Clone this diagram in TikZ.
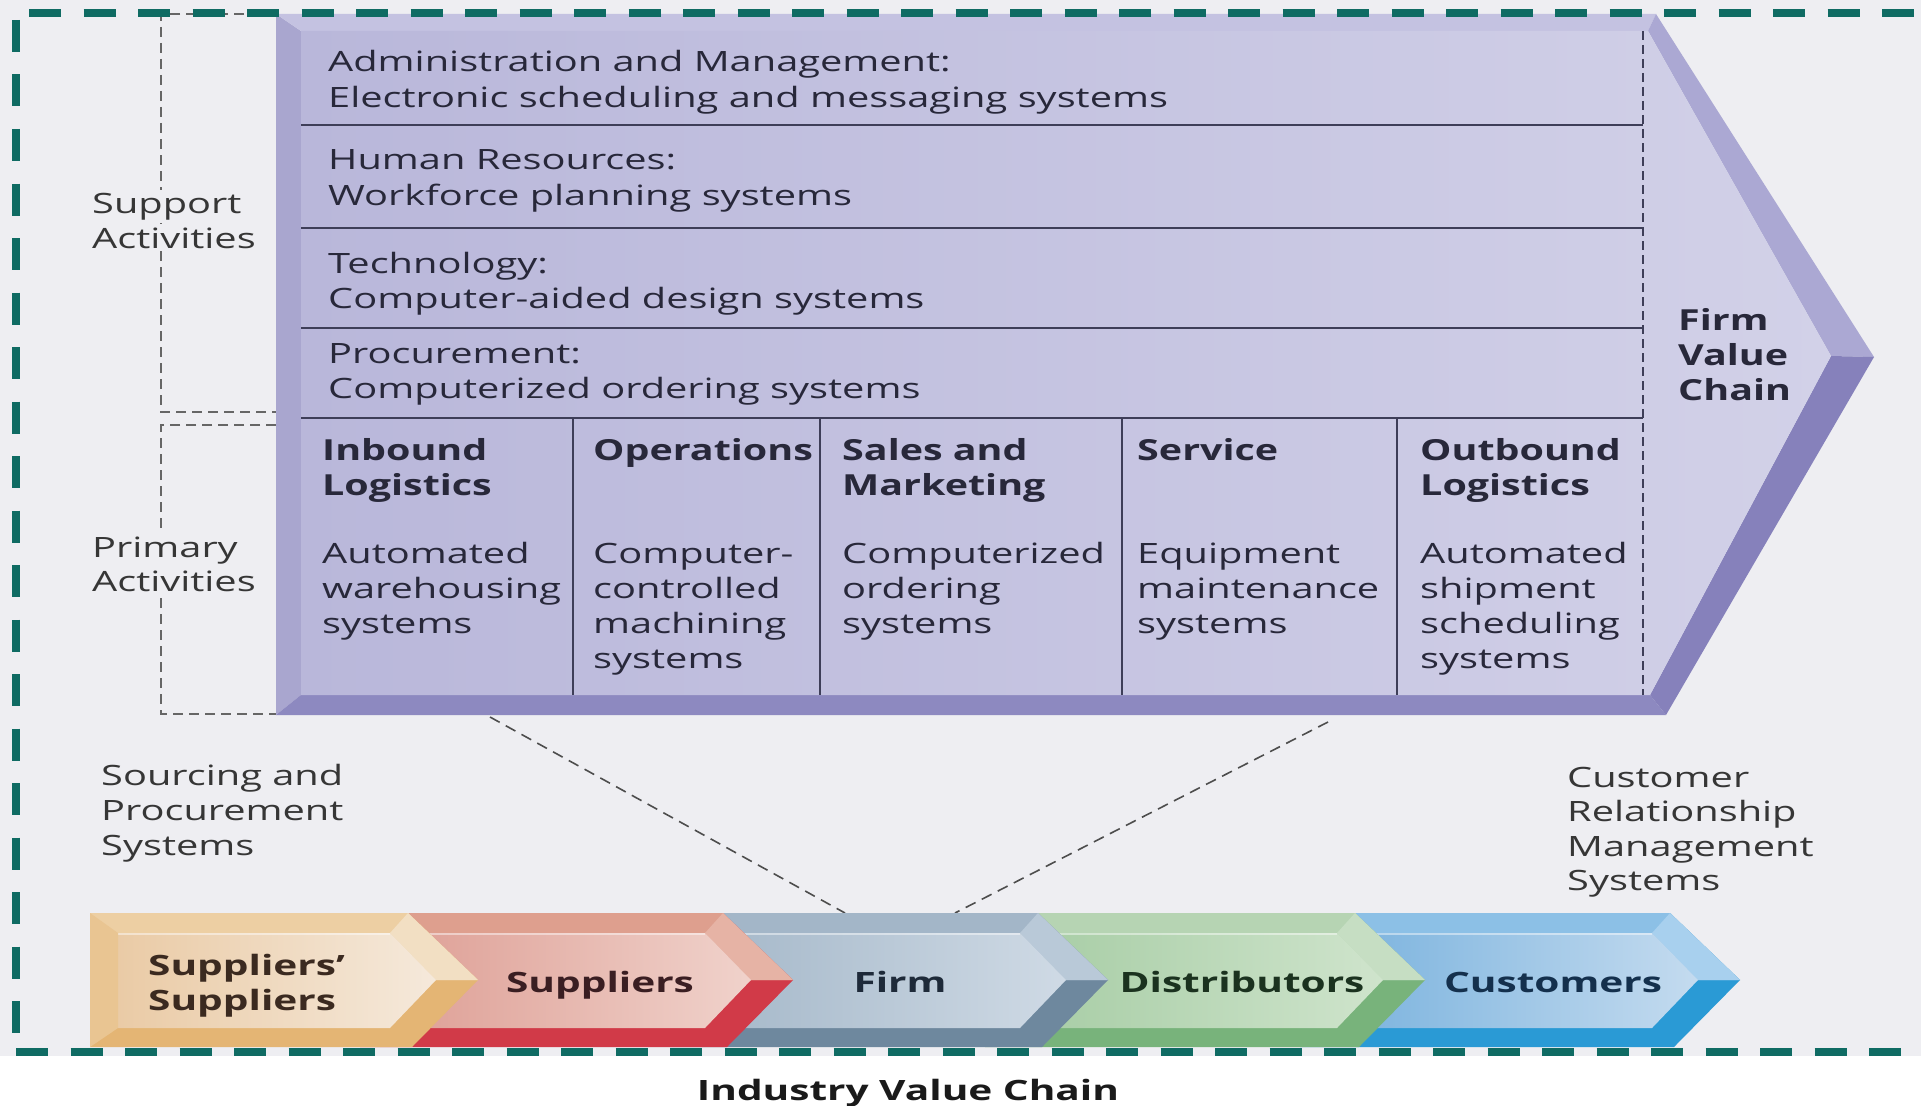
\documentclass[tikz,border=0pt]{standalone}
\usepackage{fontspec}
\setmainfont{Open Sans}
\newfontfamily\regf[FakeStretch=1.42]{Open Sans}
\newfontfamily\headf[FakeStretch=1.36]{Open Sans}
\newfontfamily\chevf[FakeStretch=1.45]{Open Sans}
\definecolor{bg}{HTML}{EEEEF2}
\definecolor{tealb}{HTML}{0F6B63}
\definecolor{txt}{HTML}{28283A}
\definecolor{sidetxt}{HTML}{363636}
\definecolor{divc}{HTML}{3E3E58}
\definecolor{brk}{HTML}{666666}
\definecolor{lnk}{HTML}{4D4D4D}
\definecolor{arrLeft}{HTML}{A9A6CF}
\definecolor{arrTop}{HTML}{C4C2E1}
\definecolor{arrUp}{HTML}{ABA8D3}
\definecolor{arrLow}{HTML}{8681BB}
\definecolor{arrBot}{HTML}{8D89C0}
\definecolor{faceL}{HTML}{B9B7DA}
\definecolor{faceR}{HTML}{D2D1E8}
% chevrons
\definecolor{tanT}{HTML}{EDCFA3}\definecolor{tanD}{HTML}{F2DFC3}\definecolor{tanB}{HTML}{E4B574}
\definecolor{tanFL}{HTML}{EACBA6}\definecolor{tanFR}{HTML}{F5E9DB}\definecolor{tanL}{HTML}{E9C592}
\definecolor{redT}{HTML}{DE9F8E}\definecolor{redD}{HTML}{E6B3A5}\definecolor{redB}{HTML}{D13A48}
\definecolor{redFL}{HTML}{DC9A90}\definecolor{redFR}{HTML}{F0D2CB}
\definecolor{firT}{HTML}{A3B6C8}\definecolor{firD}{HTML}{B9C9D8}\definecolor{firB}{HTML}{6E889E}
\definecolor{firFL}{HTML}{A0B4C6}\definecolor{firFR}{HTML}{CFDAE5}
\definecolor{grnT}{HTML}{B6D4B3}\definecolor{grnD}{HTML}{C6DEC3}\definecolor{grnB}{HTML}{78B37B}
\definecolor{grnFL}{HTML}{A2CAA0}\definecolor{grnFR}{HTML}{CFE4CC}
\definecolor{bluT}{HTML}{8CC0E6}\definecolor{bluD}{HTML}{A8D0EE}\definecolor{bluB}{HTML}{2A9AD5}
\definecolor{bluFL}{HTML}{72AEDC}\definecolor{bluFR}{HTML}{C4DBEF}
\definecolor{tanTx}{HTML}{3B2A20}\definecolor{redTx}{HTML}{3A1E22}\definecolor{firTx}{HTML}{1E2A39}
\definecolor{grnTx}{HTML}{1B321F}\definecolor{bluTx}{HTML}{14304D}\definecolor{ttl}{HTML}{1A1A1A}

% lines of text: name, x, first baseline, style, line skip, list
\newcommand\tlines[6]{\foreach \ln [count=\k] in {#6} {\node[#4] (#1\k) at (#2,{#3+#5*(\k-1)}) {\ln};}}
% chevron block: outer L, inner L, C, top, diag, bottom, faceL, faceR
\newcommand\chevblock[8]{%
  \fill[#6] (#1,913) -- (#3,913) -- ({#3+70},980) -- ({#3+4},1047) -- (#1,1047) -- cycle;
  \fill[#4] (#1,913) -- (#3,913) -- ({#3+70},980) -- (#1,980) -- cycle;
  \fill[#5] ({#3-18},933) -- (#3,913) -- ({#3+70},980) -- ({#3+28},980) -- cycle;
  \shade[left color=#7, right color=#8] (#2,933) -- ({#3-18},933) -- ({#3+28},980) -- ({#3-18},1028) -- (#2,1028) -- cycle;
  \draw[white, opacity=.45, line width=1.5pt] (#2,934) -- ({#3-18},934);
}

\begin{document}
\begin{tikzpicture}[x=1pt,y=-1pt,
  body/.style={anchor=base west, inner sep=0pt, text=txt, font=\regf\fontsize{28}{35}\selectfont},
  head/.style={anchor=base west, inner sep=0pt, text=txt, font=\headf\bfseries\fontsize{29}{35}\selectfont},
  side/.style={anchor=base west, inner sep=3pt, text=sidetxt, fill=bg, font=\regf\fontsize{28}{35}\selectfont},
  plain/.style={anchor=base west, inner sep=0pt, text=sidetxt, font=\regf\fontsize{28}{35}\selectfont},
  chev/.style={anchor=base, inner sep=0pt, font=\chevf\bfseries\fontsize{28}{35}\selectfont},
  divline/.style={draw=divc, line width=2pt},
  bracket/.style={draw=brk, line width=1.8pt, dash pattern=on 10pt off 6pt},
  link/.style={draw=lnk, line width=1.6pt, dash pattern=on 11pt off 7pt},
  border/.style={draw=tealb, line width=8.5pt, dash pattern=on 32pt off 22.5pt}
]
\useasboundingbox (0,0) rectangle (1921,1105);
\fill[bg] (0,0) rectangle (1921,1056);
\fill[white] (0,1056) rectangle (1921,1105);

% brackets
\draw[bracket] (276,14) -- (161,14) -- (161,412) -- (276,412);
\draw[bracket] (276,425) -- (161,425) -- (161,714) -- (276,714);

% firm value chain arrow
\coordinate (oTL) at (276,14);  \coordinate (oTR) at (1656,14);
\coordinate (oTip) at (1874,357); \coordinate (oBR) at (1666,715);
\coordinate (oBL) at (276,715);
\coordinate (iTL) at (301,31);  \coordinate (iTR) at (1648,31);
\coordinate (iTip) at (1831,356); \coordinate (iBR) at (1650,695);
\coordinate (iBL) at (301,695);
\fill[arrLeft] (oTL) -- (iTL) -- (iBL) -- (oBL) -- cycle;
\fill[arrTop] (oTL) -- (oTR) -- (iTR) -- (iTL) -- cycle;
\fill[arrUp] (oTR) -- (oTip) -- (iTip) -- (iTR) -- cycle;
\fill[arrLow] (oTip) -- (oBR) -- (iBR) -- (iTip) -- cycle;
\fill[arrBot] (oBL) -- (oBR) -- (iBR) -- (iBL) -- cycle;
\shade[left color=faceL, right color=faceR] (iTL) -- (iTR) -- (iTip) -- (iBR) -- (iBL) -- cycle;

\foreach \y in {125,228,328,418} \draw[divline] (301,\y) -- (1643,\y);
\foreach \x in {573,820,1122,1397} \draw[divline] (\x,418) -- (\x,695);
\draw[draw=divc, line width=1.8pt, dash pattern=on 9pt off 5pt] (1643,31) -- (1643,695);

% links
\coordinate (lkA) at (490,717); \coordinate (lkB) at (845,913);
\coordinate (lkC) at (1328,722); \coordinate (lkD) at (955,913);
\draw[link] (lkA) -- (lkB);
\draw[link] (lkC) -- (lkD);

% industry value chain
\chevblock{1300}{1300}{1670}{bluT}{bluD}{bluB}{bluFL}{bluFR}
\chevblock{985}{985}{1355}{grnT}{grnD}{grnB}{grnFL}{grnFR}
\chevblock{670}{670}{1038}{firT}{firD}{firB}{firFL}{firFR}
\chevblock{360}{360}{723}{redT}{redD}{redB}{redFL}{redFR}
\chevblock{90}{118}{408}{tanT}{tanD}{tanB}{tanFL}{tanFR}
\fill[tanL] (90,913) -- (118,933) -- (118,1028) -- (90,1047) -- cycle;

% teal border
\draw[border, dash phase=41.5pt] (16,13) -- (1921,13);
\draw[border, dash phase=47.5pt] (16,13) -- (16,1052);
\draw[border] (16,1052) -- (1921,1052);

% support rows
\tlines{adm}{328}{72}{body}{36}{Administration and Management:, Electronic scheduling and messaging systems}
\tlines{hr}{328}{169}{body}{36}{Human Resources:, Workforce planning systems}
\tlines{tec}{328}{273}{body}{35}{Technology:, Computer-aided design systems}
\tlines{pro}{328}{363}{body}{35}{Procurement:, Computerized ordering systems}

% primary activities
\tlines{hin}{322}{460}{head}{35}{Inbound, Logistics}
\tlines{hop}{593}{460}{head}{35}{Operations}
\tlines{hsa}{842}{460}{head}{35}{Sales and, Marketing}
\tlines{hse}{1137}{460}{head}{35}{Service}
\tlines{hou}{1420}{460}{head}{35}{Outbound, Logistics}
\tlines{bin}{322}{563}{body}{35}{Automated, warehousing, systems}
\tlines{bop}{593}{563}{body}{35}{Computer-, controlled, machining, systems}
\tlines{bsa}{842}{563}{body}{35}{Computerized, ordering, systems}
\tlines{bse}{1137}{563}{body}{35}{Equipment, maintenance, systems}
\tlines{bou}{1420}{563}{body}{35}{Automated, shipment, scheduling, systems}

\tlines{fvc}{1678}{330}{head}{35}{Firm, Value, Chain}

% side labels
\tlines{sup}{89}{213}{side}{35}{Support, Activities}
\tlines{pri}{89}{557}{side}{34}{Primary, Activities}
\tlines{src}{101}{785}{plain}{35}{Sourcing and, Procurement, Systems}
\tlines{crm}{1567}{787}{plain}{34.5}{Customer, Relationship, Management, Systems}

% chevron labels
\node[chev, anchor=base west, text=tanTx] (ss1) at (148,975) {Suppliers’};
\node[chev, anchor=base west, text=tanTx] (ss2) at (148,1010) {Suppliers};
\node[chev, text=redTx] (spl) at (600,992) {Suppliers};
\node[chev, text=firTx] (frm) at (900,992) {Firm};
\node[chev, text=grnTx] (dst) at (1242,992) {Distributors};
\node[chev, text=bluTx] (cus) at (1553,992) {Customers};

\node[chev, text=ttl] (ivc) at (908,1100) {Industry Value Chain};
\end{tikzpicture}
\end{document}
